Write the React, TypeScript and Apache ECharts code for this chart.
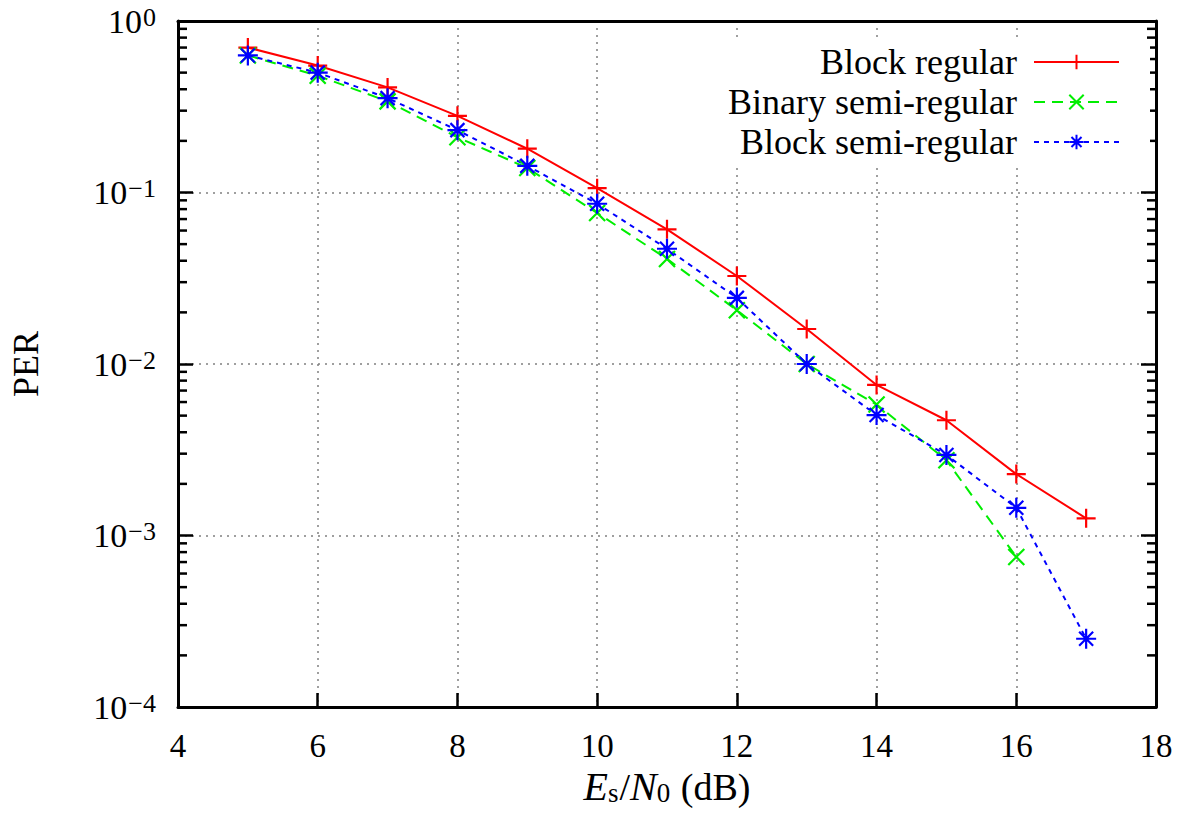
import React, { useEffect, useRef } from "react";
import * as echarts from "echarts";

const snr = [5, 6, 7, 8, 9, 10, 11, 12, 13, 14, 15, 16, 17];
const blockRegular = [0.70, 0.55, 0.41, 0.28, 0.18, 0.106, 0.061, 0.0326, 0.016, 0.00755, 0.0047, 0.00228, 0.00126];
const binarySemi = [0.63, 0.48, 0.34, 0.21, 0.139, 0.076, 0.041, 0.0206, 0.0100, 0.0058, 0.00275, 0.00075];
const blockSemi = [0.63, 0.50, 0.355, 0.231, 0.143, 0.086, 0.047, 0.0243, 0.0100, 0.00504, 0.00295, 0.00145, 0.00025];
const seriesNames = ["Block regular", "Binary semi-regular", "Block semi-regular"];
const decades = [-4, -3, -2, -1];
const minorMultipliers = [2, 3, 4, 5, 6, 7, 8, 9];

const FONT = "'Liberation Serif', serif";
const PLUS = "path://M0,5L10,5M5,0L5,10";
const CROSS = "path://M0,0L10,10M10,0L0,10";
const STAR = "path://M0,5L10,5M5,0L5,10M1.5,1.5L8.5,8.5M8.5,1.5L1.5,8.5";

function pairs(xs: number[], ys: number[]) {
  return ys.map((y, i) => [xs[i], y]);
}

export default function App() {
  const ref = useRef<HTMLDivElement>(null);
  useEffect(() => {
    if (!ref.current) return;
    const chart = echarts.init(ref.current, null, { renderer: "svg" });
    const minorVals: number[][] = [];
    decades.forEach((d) => minorMultipliers.forEach((m) => minorVals.push([4, m * Math.pow(10, d)])));
    const sup = (v: number) => {
      const e = Math.round(Math.log10(v));
      const s = e < 0 ? "\u2212" + Math.abs(e) : String(e);
      return `{a|10}{b|${s}}`;
    };
    const gridDots = { show: true, lineStyle: { color: "#808080", type: [2, 5], width: 1.5 } };
    const mk = (name: string, data: number[], color: string, symbol: string, dash: any, size: number) => ({
      name,
      type: "line",
      data: pairs(snr, data),
      symbol,
      symbolSize: size,
      showSymbol: true,
      lineStyle: { color, width: 2, type: dash },
      itemStyle: { color: "rgba(0,0,0,0)", borderColor: color, borderWidth: 2.2 },
      z: 5,
    });
    chart.setOption({
      animation: false,
      backgroundColor: "#ffffff",
      textStyle: { fontFamily: FONT },
      grid: { left: 174, right: 31, top: 21, bottom: 109, containLabel: false },
      legend: {
        data: seriesNames,
        orient: "vertical",
        align: "right",
        right: 37,
        top: 40,
        itemWidth: 85,
        itemHeight: 18,
        itemGap: 0,
        padding: [2, 30, 4, 10],
        backgroundColor: "#ffffff",
        textStyle: { fontFamily: FONT, fontSize: 36, color: "#000", lineHeight: 40, padding: [0, 12, 0, 0] },
      },
      xAxis: [
        {
          type: "value",
          min: 4,
          max: 18,
          interval: 2,
          position: "bottom",
          axisLine: { show: true, lineStyle: { color: "#000", width: 3 } },
          axisTick: { show: true, inside: true, length: 14, lineStyle: { color: "#000", width: 2.5 } },
          axisLabel: { fontFamily: FONT, fontSize: 33, color: "#000", margin: 22 },
          splitLine: gridDots,
          name: "{i|E}{sub|s}{n|/}{i|N}{sub|0}{n| (dB)}",
          nameLocation: "middle",
          nameGap: 50,
          nameTextStyle: {
            rich: {
              i: { fontFamily: FONT, fontStyle: "italic", fontSize: 40, color: "#000" },
              n: { fontFamily: FONT, fontSize: 38, color: "#000" },
              sub: { fontFamily: FONT, fontSize: 27, color: "#000", verticalAlign: "bottom", padding: [12, 1, 0, 0] },
            },
          },
        },
        {
          type: "value",
          min: 4,
          max: 18,
          interval: 2,
          position: "top",
          axisLine: { show: true, lineStyle: { color: "#000", width: 3 } },
          axisTick: { show: false },
          axisLabel: { show: false },
          splitLine: { show: false },
        },
      ],
      yAxis: [
        {
          type: "log",
          min: 0.0001,
          max: 1,
          logBase: 10,
          position: "left",
          axisLine: { show: true, lineStyle: { color: "#000", width: 3 } },
          axisTick: { show: true, inside: true, length: 15, lineStyle: { color: "#000", width: 2.5 } },
          axisLabel: {
            margin: 22,
            formatter: sup,
            rich: {
              a: { fontFamily: FONT, fontSize: 34, color: "#000" },
              b: { fontFamily: FONT, fontSize: 26, color: "#000", verticalAlign: "top", padding: [0, 0, 8, 1] },
            },
          },
          splitLine: gridDots,
          name: "PER",
          nameLocation: "middle",
          nameGap: 134,
          nameTextStyle: { fontFamily: FONT, fontSize: 36, color: "#000" },
        },
        {
          type: "log",
          min: 0.0001,
          max: 1,
          logBase: 10,
          position: "right",
          axisLine: { show: true, lineStyle: { color: "#000", width: 3 } },
          axisTick: { show: true, inside: true, length: 15, lineStyle: { color: "#000", width: 2.5 } },
          axisLabel: { show: false },
          splitLine: { show: false },
        },
      ],
      series: [
        {
          type: "custom",
          name: "minorTicks",
          xAxisIndex: 0,
          yAxisIndex: 0,
          data: minorVals,
          silent: true,
          z: 3,
          renderItem: (params: any, api: any) => {
            const v = api.value(1);
            const p = api.coord([4, v]);
            const q = api.coord([18, v]);
            const st = { stroke: "#000", lineWidth: 2.5 };
            return {
              type: "group",
              children: [
                { type: "line", shape: { x1: p[0], y1: p[1], x2: p[0] + 9, y2: p[1] }, style: st },
                { type: "line", shape: { x1: q[0], y1: q[1], x2: q[0] - 9, y2: q[1] }, style: st },
              ],
            };
          },
        },
        mk(seriesNames[0], blockRegular, "#ff0000", PLUS, "solid", 19),
        mk(seriesNames[1], binarySemi, "#00ee00", CROSS, [11, 7], 16),
        mk(seriesNames[2], blockSemi, "#0000ff", STAR, [5, 5], 20),
      ],
    });
    return () => chart.dispose();
  }, []);
  return <div ref={ref} style={{ position: "fixed", left: 0, top: 0, width: 1187, height: 816 }} />;
}
